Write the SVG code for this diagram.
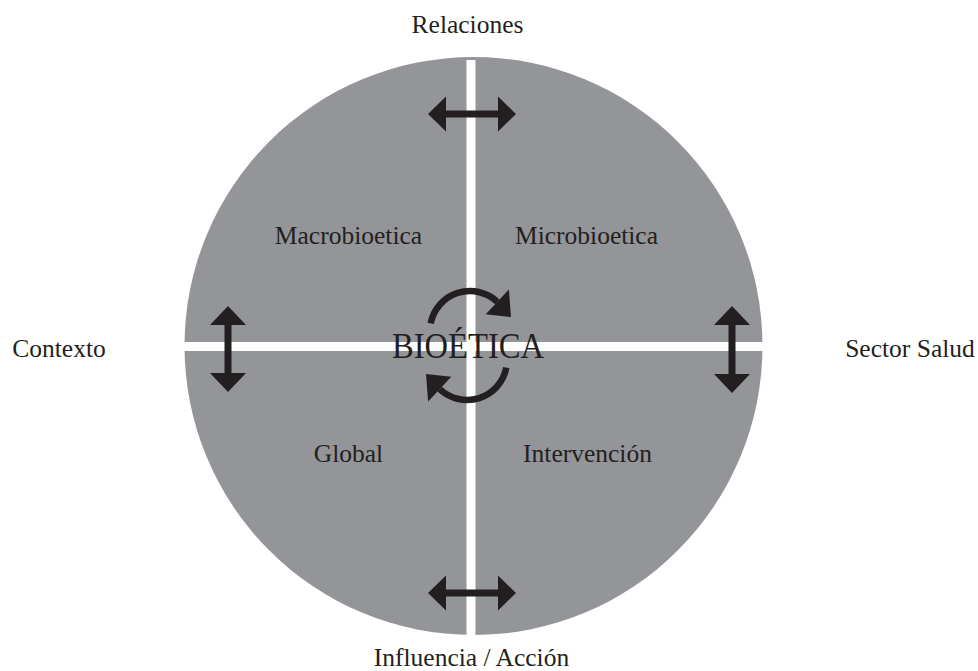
<svg xmlns="http://www.w3.org/2000/svg" width="978" height="671" viewBox="0 0 978 671">
<style>
.t{font-family:"Liberation Serif","Times New Roman",serif;font-size:25.5px;fill:#231f20;text-anchor:middle}
.ar{fill:#231f20}
.arc{fill:none;stroke:#231f20;stroke-width:6.5}
</style>
<rect width="978" height="671" fill="#ffffff"/>
<g id="circle">
<circle cx="473.5" cy="346" r="289" fill="#939598"/>
<rect x="466.5" y="60" width="9" height="580" fill="#ffffff"/>
<rect x="180" y="342" width="590" height="9" fill="#ffffff"/>
</g>
<g id="connectors">
<polygon class="ar" points="428,114 446,96.5 446,110.5 498,110.5 498,96.5 516,114 498,131.5 498,117.5 446,117.5 446,131.5"/>
<polygon class="ar" points="428,593 446,575.5 446,589.5 498,589.5 498,575.5 516,593 498,610.5 498,596.5 446,596.5 446,610.5"/>
<polygon class="ar" points="228,306 246,325 231.5,325 231.5,373 246,373 228,392 210,373 224.5,373 224.5,325 210,325"/>
<polygon class="ar" points="732,306 750,325 735.5,325 735.5,374 750,374 732,393 714,374 728.5,374 728.5,325 714,325"/>
<g id="cycle-top">
<path class="arc" d="M430.7,323.4 A40,40 0 0 1 497.3,301.8"/>
<polygon class="ar" points="508.9,289.4 485.7,314.2 511,317"/>
</g>
<g id="cycle-bottom" transform="rotate(180 468.5 345.5)">
<path class="arc" d="M430.7,323.4 A40,40 0 0 1 497.3,301.8"/>
<polygon class="ar" points="508.9,289.4 485.7,314.2 511,317"/>
</g>
</g>
<g id="relaciones"><text class="t" x="467.5" y="33">Relaciones</text></g>
<g id="contexto"><text class="t" x="59" y="357">Contexto</text></g>
<g id="sector-salud"><text class="t" x="910" y="357">Sector Salud</text></g>
<g id="influencia"><text class="t" x="471.5" y="666">Influencia / Acción</text></g>
<g id="macrobioetica"><text class="t" x="348.5" y="244">Macrobioetica</text></g>
<g id="microbioetica"><text class="t" x="586.5" y="244">Microbioetica</text></g>
<g id="global"><text class="t" x="348.5" y="462">Global</text></g>
<g id="intervencion"><text class="t" x="587.5" y="462">Intervención</text></g>
<g id="bioetica"><text class="t" x="468" y="358" style="font-size:35px" textLength="152" lengthAdjust="spacingAndGlyphs">BIOÉTICA</text></g>
</svg>
